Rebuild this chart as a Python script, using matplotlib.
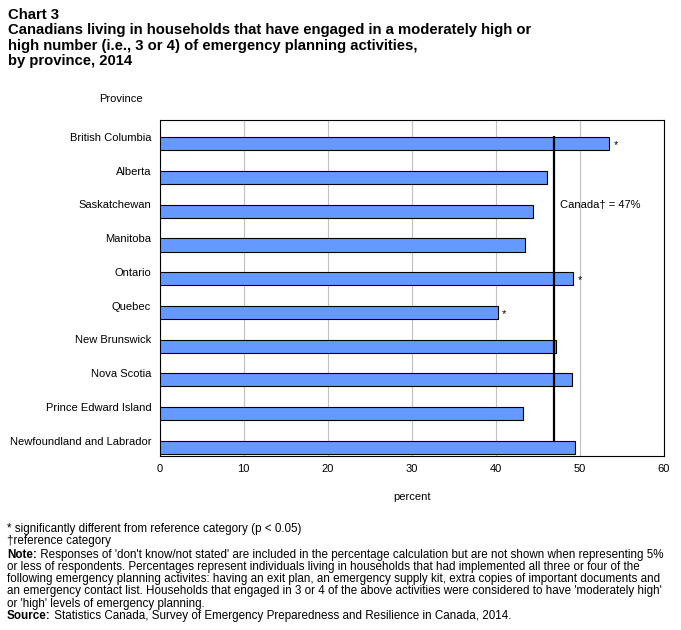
import matplotlib
matplotlib.use('Agg')
import matplotlib.pyplot as plt
import numpy as np

plt.rcParams['font.family'] = ['Liberation Sans', 'DejaVu Sans']

# data
provinces = ['British Columbia', 'Alberta', 'Saskatchewan', 'Manitoba', 'Ontario',
             'Quebec', 'New Brunswick', 'Nova Scotia', 'Prince Edward Island',
             'Newfoundland and Labrador']
percent = [53.5, 46.1, 44.4, 43.5, 49.2, 40.2, 47.1, 49.1, 43.2, 49.4]
significant = [True, False, False, False, True, True, False, False, False, False]
canada = 46.9

title_lines = ['Chart 3',
               'Canadians living in households that have engaged in a moderately high or',
               'high number (i.e., 3 or 4) of emergency planning activities,',
               'by province, 2014']

notes = [
    ('', '* significantly different from reference category (p < 0.05)'),
    ('', '\u2020reference category'),
    ('Note:', " Responses of 'don't know/not stated' are included in the percentage calculation but are not shown when representing 5%"),
    ('', 'or less of respondents. Percentages represent individuals living in households that had implemented all three or four of the'),
    ('', 'following emergency planning activites: having an exit plan, an emergency supply kit, extra copies of important documents and'),
    ('', "an emergency contact list. Households that engaged in 3 or 4 of the above activities were considered to have 'moderately high'"),
    ('', "or 'high' levels of emergency planning."),
    ('Source:', ' Statistics Canada, Survey of Emergency Preparedness and Resilience in Canada, 2014.'),
]

W, H = 681, 630
fig = plt.figure(figsize=(W / 100, H / 100), dpi=100)
ax = fig.add_axes([159.5 / W, 1 - 455.7 / H, (664 - 159.5) / W, (455.7 - 120) / H])

fs = 8
y = np.arange(len(provinces))
ax.barh(y, percent, height=0.39, color='#6699ff', edgecolor='black', linewidth=0.8, zorder=3)
ax.set_xlim(0, 60)
ax.set_ylim(9.25, -0.706)
ax.set_xticks(range(0, 61, 10))
ax.grid(axis='x', color='#c0c0c0', linewidth=0.8, zorder=0)
ax.set_yticks(y - 0.2)
ax.set_yticklabels(provinces)
ax.tick_params(length=0, labelsize=fs)
ax.tick_params(axis='y', pad=6)
ax.tick_params(axis='x', pad=6)
for s in ax.spines.values():
    s.set_linewidth(0.8)

# Canada reference line
ax.vlines(canada, -0.24, 8.83, color='black', linewidth=1.6, zorder=4)
ax.text(canada + 0.7, 1.81, 'Canada\u2020 = %d%%' % round(canada), va='center', fontsize=fs)

for yi, v, s in zip(y, percent, significant):
    if s:
        ax.text(v + 0.5, yi + 0.05, '*', fontsize=fs, va='center', color='black')

ax.set_xlabel('percent', fontsize=fs, labelpad=13)

fig.text(121 / W, 1 - 99 / H, 'Province', fontsize=fs, ha='center', va='center')

for i, t in enumerate(title_lines):
    fig.text(8 / W, 1 - (15 + 15.4 * i) / H, t, fontsize=10.7, fontweight='bold', va='center')

renderer = fig.canvas.get_renderer()
ypos = 529
for i, (bold, rest) in enumerate(notes):
    if i == 2:
        ypos += 1
    x0 = 7 / W
    if bold:
        tb = fig.text(x0, 1 - ypos / H, bold, fontsize=8.35, fontweight='bold', va='center')
        bb = tb.get_window_extent(renderer)
        x0 = bb.x1 / W
    fig.text(x0, 1 - ypos / H, rest, fontsize=8.35, va='center')
    ypos += 12.3

fig.savefig('out.png', dpi=100)
